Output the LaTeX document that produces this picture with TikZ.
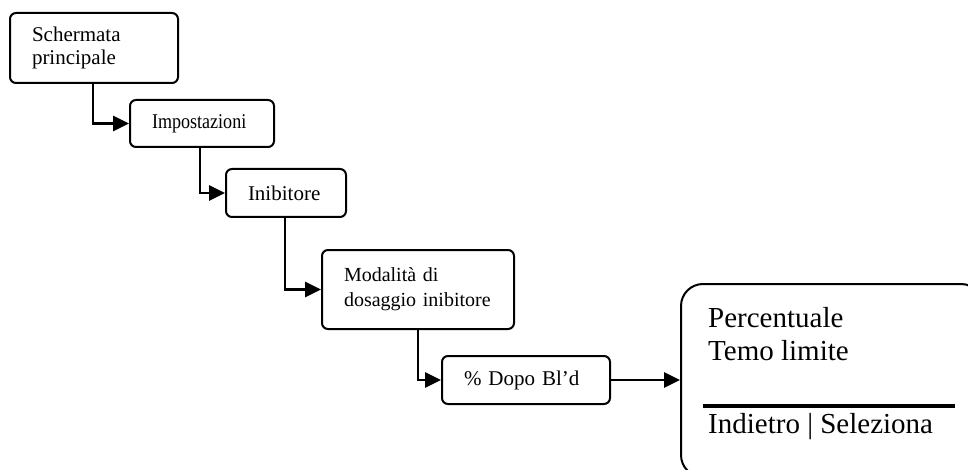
\documentclass[tikz,border=0pt]{standalone}
\usepackage{fontspec}
\setmainfont{Liberation Serif}
\newfontfamily\narrowserif[FakeStretch=0.86]{Liberation Serif}
\usetikzlibrary{arrows.meta}

\tikzset{
  menubox/.style={draw, line width=2pt, rounded corners=6pt, anchor=north west,
    align=left, inner xsep=22pt, inner ysep=0pt},
  conn/.style={line width=2.8pt, -{Triangle[length=16pt 0 0,width=15pt 0 0]}},
  label/.style={inner sep=0pt, anchor=base west},
}

\begin{document}
\begin{tikzpicture}[x=1pt, y=-1pt]
  \useasboundingbox (0,0) rectangle (968,470);
  \clip (0,0) rectangle (968,470);

  % menu steps
  \node[menubox, text width=124pt, minimum height=70pt,
        font=\fontsize{21}{23}\selectfont] (s1) at (9,12) {Schermata\\principale};
  \node[menubox, text width=100pt, minimum height=47pt,
        font=\narrowserif\fontsize{21}{23}\selectfont] (s2) at (129,99) {Impostazioni};
  \node[menubox, text width=76pt, minimum height=48pt,
        font=\fontsize{21}{23}\selectfont] (s3) at (225,168) {Inibitore};
  \node[menubox, text width=148pt, minimum height=79pt,
        font=\fontsize{20}{25}\selectfont] (s4) at (321,249) {Modalità di\\dosaggio inibitore};
  \node[menubox, text width=124pt, minimum height=48pt,
        font=\fontsize{21}{23}\selectfont] (s5) at (441,355) {\% Dopo Bl’d};

  % display screen
  \node[draw, line width=2pt, rounded corners=22pt, anchor=north west,
        minimum width=302pt, minimum height=193pt, inner sep=0pt] (scr) at (680,283) {};
  \begin{scope}[font=\fontsize{29}{33}\selectfont]
    \node[label] (t1) at ([shift={(28,44)}]scr.north west) {Percentuale};
    \node[label] (t2) at ([shift={(28,77)}]scr.north west) {Temo limite};
    \node[label] (t3) at ([shift={(28,150)}]scr.north west) {Indietro | Seleziona};
  \end{scope}
  \draw[line width=3.5pt] ([shift={(23,123)}]scr.north west) -- ([shift={(275,123)}]scr.north west);

  % connectors
  \draw[conn] (s1.south west) ++(84,0) |- (s2.west);
  \draw[conn] (s2.south west) ++(71,0) |- (s3.west);
  \draw[conn] (s3.south west) ++(60,0) |- (s4.west);
  \draw[conn] (s4.south west) ++(97,0) |- (s5.west);
  \draw[conn] (s5.east) -- (s5.east -| scr.west);
\end{tikzpicture}
\end{document}
